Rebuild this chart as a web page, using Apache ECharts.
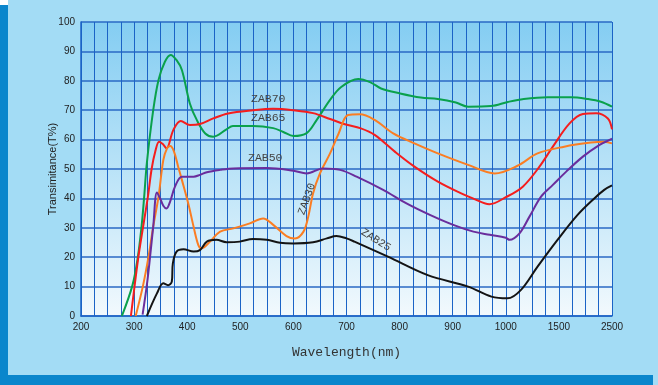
<!DOCTYPE html>
<html><head><meta charset="utf-8">
<script src="https://cdn.jsdelivr.net/npm/echarts@6/dist/echarts.min.js"></script>
<style>html,body{margin:0;padding:0;background:#a3dcf5;}#c{width:658px;height:385px;}</style>
</head><body><div id="c"></div>
<script>
// Tick labels (non-linear wavelength axis; each label is one equal step)
const tickLabels = ['200','300','400','500','600','700','800','900','1000','1500','2500'];
const tickWl = [200,300,400,500,600,700,800,900,1000,1500,2500];
const yTicks = [0,10,20,30,40,50,60,70,80,90,100];

// ZAB65 (green)
const greenWl = [277,297,307,314,319,324,336,346,358,369,380,390,405,418,434,449,474,486,524,562,581,600,625,644,669,690,722,746,765,801,840,872,906,929,972,1019,1169,1395,1726,2046,2290,2500];
const greenT  = [0,10.5,20,30.4,40.6,52,70,80.3,86.5,88.8,87,83.7,72.3,66.7,62.1,61,63.5,64.6,64.6,63.9,62.6,61.2,62.2,66.7,73.5,77.9,80.6,79.4,77.4,75.7,74.3,73.8,72.6,71.2,71.4,72.8,73.8,74.4,74.4,73.8,72.9,71.2];
// ZAB70 (red)
const redWl = [294,308,317,326,333,340,347,354,361,374,388,405,424,449,477,524,562,600,637,669,697,727,753,791,828,872,916,938,969,1000,1160,1317,1443,1701,1952,2202,2422,2500];
const redT  = [0,20,30.4,40.6,50,56,59.3,58.5,57,63.3,66.3,65,65.3,67.2,68.9,70,70.5,70,69,67,65.2,63.8,61.6,55.9,50.8,45.7,41.7,40,38,40.4,44,50.8,57.6,65.5,68.7,69,67.2,63.5];
// ZAB30 (orange)
const orangeWl = [303,317,327,336,346,355,362,368,375,383,390,402,412,421,427,443,462,487,518,543,562,587,603,619,628,637,650,669,685,703,725,753,788,828,872,929,979,1110,1299,1600,2103,2354,2500];
const orangeT  = [0,10.5,20,30.4,40.6,53,57,57.8,56,50.8,46.3,38.3,30.4,24.1,23,25.3,28.7,29.8,31.5,33.2,31,27.2,26.4,28.7,33.8,41.7,48.5,55.3,62,68.4,68.6,66.7,62.1,58.7,55.3,51.4,48.5,51.1,55.3,57.6,59,59.3,58.7];
// ZAB50 (purple)
const purpleWl = [316,324,330,336,343,349,355,361,368,377,390,412,424,437,462,487,550,600,625,656,688,719,769,813,857,901,939,970,1000,1035,1129,1223,1332,1443,1638,1952,2266,2454,2500];
const purpleT  = [0.5,10.5,20,30.4,42,40,37.5,36.6,39,44,47.4,47.4,48,48.9,49.7,50.2,50.3,49.4,48.5,50.2,49.7,47.4,42.9,38.3,34.4,31,28.7,27.6,26.6,25.9,28.1,33.8,40.6,44.6,49.1,54.2,58.2,59.9,60.3];
// ZAB25 (black)
const blackWl = [324,343,355,364,371,373,380,393,412,424,437,455,474,499,524,550,575,600,637,663,681,700,715,778,853,929,973,1016,1141,1299,1487,1852,2166,2354,2500];
const blackT  = [0,7.7,11.1,10.5,11.7,17.9,21.9,22.7,21.9,22.4,25.3,25.9,25.1,25.3,26.2,25.9,24.9,24.7,25.1,26.4,27.2,26.4,25.3,20.2,13.9,10,6.6,6,8.8,16.8,25.9,34.4,40,42.9,44.4];

function toPos(w){
  for (let i=0;i<tickWl.length-1;i++){
    if (w<=tickWl[i+1]) return i + (w-tickWl[i])/(tickWl[i+1]-tickWl[i]);
  }
  return tickWl.length-1;
}
function pts(wl, t){ return wl.map((w,i)=>[toPos(w), t[i]]); }

const chart = echarts.init(document.getElementById('c'));
const gridColor = '#1b63c6';
function line(name, wl, t, color){
  return {name, type:'line', data:pts(wl,t), showSymbol:false, smooth:0.35,
    lineStyle:{color, width:2}, itemStyle:{color}, z:3};
}
const mono = "'Liberation Mono', 'DejaVu Sans Mono', monospace";
chart.setOption({
  backgroundColor:'#a3dcf5',
  animation:false,
  grid:{left:81, top:22, width:531, height:294, show:true, borderWidth:0,
    backgroundColor:{type:'linear',x:0,y:0,x2:0,y2:1,colorStops:[{offset:0,color:'#84cdf2'},{offset:0.55,color:'#bfe5f8'},{offset:1,color:'#f2f9fd'}]}},
  xAxis:{type:'value', min:0, max:10, interval:1,
    name:'Wavelength(nm)', nameLocation:'middle', nameGap:30, nameMoveOverlap:false,
    nameTextStyle:{fontFamily:mono, fontSize:13, color:'#333'},
    axisLine:{show:true, lineStyle:{color:gridColor, width:1.5}},
    axisTick:{show:false}, minorTick:{show:false, splitNumber:4},
    axisLabel:{formatter:v=>tickLabels[v], fontFamily:"'Liberation Sans', Arial", fontSize:10, color:'#222', margin:6},
    splitLine:{show:true, lineStyle:{color:gridColor, width:1}},
    minorSplitLine:{show:true, lineStyle:{color:gridColor, width:1}}
  },
  yAxis:{type:'value', min:0, max:100, interval:10,
    name:'Transimitance(T%)', nameLocation:'middle', nameGap:23, nameRotate:90, nameMoveOverlap:false,
    nameTextStyle:{fontFamily:"'Liberation Sans', Arial", fontSize:11, color:'#222'},
    axisLine:{show:true, lineStyle:{color:gridColor, width:1.5}},
    axisTick:{show:false},
    axisLabel:{formatter:v=>String(v), fontFamily:"'Liberation Sans', Arial", fontSize:10, color:'#222', margin:6},
    splitLine:{show:true, lineStyle:{color:'#2a69c4', width:1.5}}
  },
  series:[
    line('ZAB65', greenWl, greenT, '#0aa14c'),
    line('ZAB70', redWl, redT, '#f51d1d'),
    line('ZAB30', orangeWl, orangeT, '#fb7d22'),
    line('ZAB50', purpleWl, purpleT, '#6a2d9c'),
    line('ZAB25', blackWl, blackT, '#141414')
  ],
  graphic:[
    {type:'rect', shape:{x:0, y:5, width:8, height:380}, style:{fill:'#0a86cc'}, z:10},
    {type:'rect', shape:{x:0, y:375, width:653, height:10}, style:{fill:'#0a86cc'}, z:10},
    {type:'rect', shape:{x:0, y:0, width:8, height:5}, style:{fill:'#ffffff'}, z:10},
    {type:'text', x:251, y:93, style:{text:'ZAB70', font:"11.5px "+mono, fill:'#444'}, z:20},
    {type:'text', x:251, y:112, style:{text:'ZAB65', font:"11.5px "+mono, fill:'#444'}, z:20},
    {type:'text', x:248, y:152, style:{text:'ZAB50', font:"11.5px "+mono, fill:'#444'}, z:20},
    {type:'text', x:307, y:199, rotation:Math.PI*70/180,
      style:{text:'ZAB30', font:"11px "+mono, fill:'#444', align:'center', verticalAlign:'middle'}, z:20},
    {type:'text', x:376, y:240, rotation:-Math.PI*32/180,
      style:{text:'ZAB25', font:"11px "+mono, fill:'#444', align:'center', verticalAlign:'middle'}, z:20}
  ]
});
</script></body></html>
